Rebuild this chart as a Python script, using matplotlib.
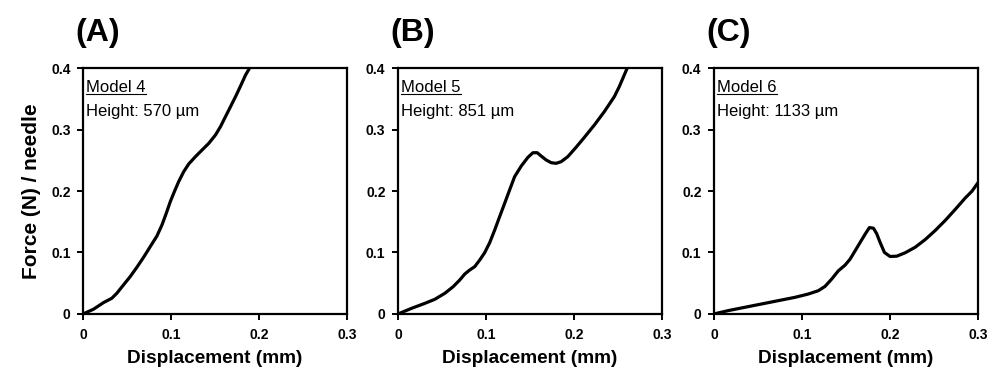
import matplotlib
matplotlib.use('Agg')
import matplotlib.pyplot as plt

plt.rcParams['font.family'] = ['Liberation Sans', 'DejaVu Sans']

# Model 4 (A)
x_a = [0, 0.0118, 0.0232, 0.0327, 0.0384, 0.046, 0.0536, 0.0612, 0.0688, 0.0764,
       0.084, 0.0897, 0.0946, 0.0992, 0.1038, 0.1087, 0.1144, 0.1201, 0.1277, 0.1353,
       0.1429, 0.1505, 0.1562, 0.1619, 0.1676, 0.1733, 0.179, 0.1847, 0.1897]
y_a = [0, 0.0076, 0.0184, 0.0255, 0.0336, 0.0472, 0.0607, 0.0759, 0.0921, 0.1095,
       0.1268, 0.1447, 0.1637, 0.1827, 0.1989, 0.2152, 0.2314, 0.2439, 0.2558, 0.2667,
       0.2775, 0.2911, 0.3046, 0.3209, 0.3371, 0.3534, 0.3707, 0.3886, 0.401]

# Model 5 (B)
x_b = [0, 0.0155, 0.0306, 0.0419, 0.0532, 0.0627, 0.0702, 0.0759, 0.0815, 0.0872,
       0.0929, 0.0985, 0.1042, 0.1099, 0.1155, 0.1212, 0.1268, 0.1325, 0.1401, 0.1476,
       0.1533, 0.1582, 0.1627, 0.1684, 0.174, 0.1797, 0.1854, 0.1929, 0.2023, 0.2118,
       0.2231, 0.2344, 0.2458, 0.2514, 0.2608]
y_b = [0, 0.0092, 0.0173, 0.0239, 0.0336, 0.0444, 0.0553, 0.065, 0.0715, 0.077,
       0.0878, 0.0997, 0.116, 0.1366, 0.1583, 0.18, 0.2016, 0.2233, 0.2407, 0.2547,
       0.2623, 0.2623, 0.2569, 0.2504, 0.2461, 0.245, 0.2477, 0.2558, 0.271, 0.2873,
       0.3073, 0.329, 0.3534, 0.3696, 0.401]

# Model 6 (C)
x_c = [0, 0.016, 0.0349, 0.0539, 0.0729, 0.0919, 0.1071, 0.1185, 0.1261, 0.1337,
       0.1413, 0.1489, 0.1546, 0.1603, 0.166, 0.1717, 0.1766, 0.1812, 0.1849, 0.1888,
       0.1937, 0.2001, 0.2077, 0.2172, 0.2286, 0.24, 0.2514, 0.2628, 0.2742, 0.2856,
       0.2932, 0.3]
y_c = [0, 0.0054, 0.0108, 0.0162, 0.0216, 0.027, 0.0324, 0.0378, 0.0448, 0.0567,
       0.0702, 0.0794, 0.0891, 0.1026, 0.1162, 0.1297, 0.1405, 0.1395, 0.1305, 0.1162,
       0.1, 0.0935, 0.094, 0.0995, 0.1085, 0.121, 0.1358, 0.1522, 0.1702, 0.1888,
       0.1998, 0.2135]

panels = ['(A)', '(B)', '(C)']
models = ['Model 4', 'Model 5', 'Model 6']
heights = ['Height: 570 µm', 'Height: 851 µm', 'Height: 1133 µm']
xs = [x_a, x_b, x_c]
ys = [y_a, y_b, y_c]

xticks = [0, 0.1, 0.2, 0.3]
xticklabels = ['0', '0.1', '0.2', '0.3']
yticks = [0, 0.1, 0.2, 0.3, 0.4]
yticklabels = ['0', '0.1', '0.2', '0.3', '0.4']

fig = plt.figure(figsize=(10, 3.76), dpi=100)
lefts = [0.083, 0.398, 0.714]
axes = []
for i in range(3):
    ax = fig.add_axes([lefts[i], 0.165, 0.264, 0.654])
    ax.plot(xs[i], ys[i], color='black', lw=2.3, solid_joinstyle='round',
            solid_capstyle='round', clip_on=True)
    ax.set_xlim(0, 0.3)
    ax.set_ylim(0, 0.4)
    ax.set_xticks(xticks)
    ax.set_xticklabels(xticklabels)
    ax.set_yticks(yticks)
    ax.set_yticklabels(yticklabels)
    for s in ax.spines.values():
        s.set_linewidth(1.6)
    ax.tick_params(direction='out', length=4, width=1.4, labelsize=10)
    ax.tick_params(axis='x', pad=6)
    ax.tick_params(axis='y', pad=5)
    for lab in ax.get_xticklabels() + ax.get_yticklabels():
        lab.set_fontweight('bold')
    ax.set_xlabel('Displacement (mm)', fontsize=13.7, fontweight='bold', labelpad=6)
    ax.text(0.012, 0.922, models[i], transform=ax.transAxes, fontsize=12,
            va='center', ha='left')
    ax.text(0.012, 0.822, heights[i], transform=ax.transAxes, fontsize=12,
            va='center', ha='left')
    fig.text(lefts[i] - 0.008, 0.912, panels[i], fontsize=23, fontweight='bold',
             va='center', ha='left')
    axes.append(ax)

axes[0].set_ylabel('Force (N) / needle', fontsize=15, fontweight='bold', labelpad=7)

# underline the model names
fig.canvas.draw()
renderer = fig.canvas.get_renderer()
for ax in axes:
    t = ax.texts[0]
    bb = t.get_window_extent(renderer).transformed(ax.transAxes.inverted())
    ax.plot([bb.x0, bb.x1], [bb.y0 + 0.005, bb.y0 + 0.005], color='black', lw=0.8,
            transform=ax.transAxes, clip_on=False)

fig.savefig('out.png', dpi=100)
